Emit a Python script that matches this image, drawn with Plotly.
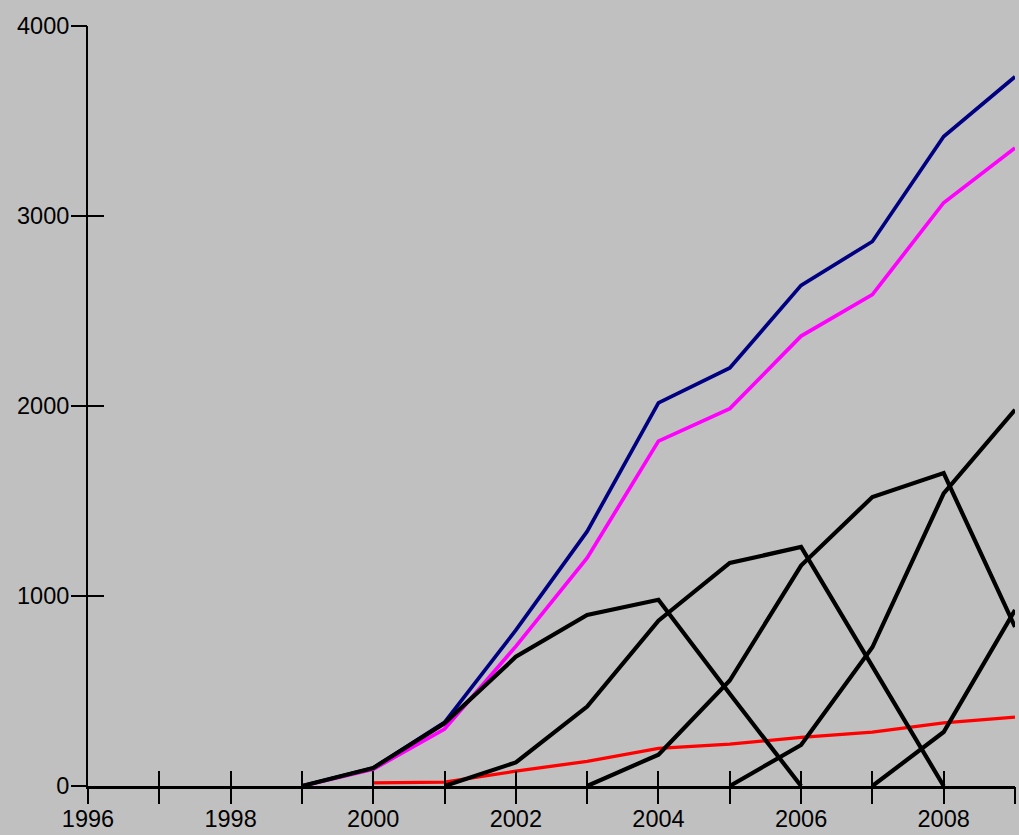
import plotly.graph_objects as go

# ---- data ----
tick_years = list(range(1996, 2010))
tick_labels = [str(y) if y % 2 == 0 else "" for y in tick_years]
y_ticks = [0, 1000, 2000, 3000, 4000]

total_years = list(range(1999, 2010))
total_values = [0, 95, 335, 820, 1340, 2016, 2200, 2635, 2866, 3418, 3733]

magenta_years = list(range(1999, 2010))
magenta_values = [0, 88, 300, 735, 1200, 1815, 1986, 2368, 2586, 3070, 3358]

red_years = list(range(2000, 2010))
red_values = [16, 20, 78, 130, 198, 220, 256, 284, 332, 363]

cohort_a_years = list(range(1999, 2007))
cohort_a_values = [0, 95, 330, 680, 900, 980, 485, 0]

cohort_b_years = list(range(2001, 2009))
cohort_b_values = [0, 124, 418, 870, 1174, 1258, 630, 0]

cohort_c_years = list(range(2003, 2010))
cohort_c_values = [0, 165, 555, 1160, 1521, 1647, 837]

cohort_d_years = list(range(2005, 2010))
cohort_d_values = [0, 216, 730, 1540, 1980]

cohort_e_years = list(range(2007, 2010))
cohort_e_values = [0, 284, 926]

fig = go.Figure()

fig.add_trace(go.Scatter(x=total_years, y=total_values, mode="lines",
                         line=dict(color="#000080", width=3.7)))
fig.add_trace(go.Scatter(x=magenta_years, y=magenta_values, mode="lines",
                         line=dict(color="#ff00ff", width=3.7)))
fig.add_trace(go.Scatter(x=red_years, y=red_values, mode="lines",
                         line=dict(color="#ff0000", width=3.3)))
for xs, ys in [(cohort_a_years, cohort_a_values), (cohort_b_years, cohort_b_values),
               (cohort_c_years, cohort_c_values), (cohort_d_years, cohort_d_values),
               (cohort_e_years, cohort_e_values)]:
    fig.add_trace(go.Scatter(x=xs, y=ys, mode="lines",
                             line=dict(color="#000000", width=4.2)))

# invisible trace to anchor the overlay axes (ticks crossing the axis lines)
fig.add_trace(go.Scatter(x=[tick_years[0]], y=[0], xaxis="x2", yaxis="y2",
                         mode="markers", marker=dict(opacity=0), hoverinfo="skip"))

font = dict(family="Liberation Sans, Arial, sans-serif", size=23.5, color="#000000")

fig.update_layout(
    width=1019, height=835,
    margin=dict(l=88, r=4, t=26, b=49, autoexpand=False),
    paper_bgcolor="#c0c0c0", plot_bgcolor="#c0c0c0",
    showlegend=False,
    font=font,
    xaxis=dict(range=[1996, 2009], tickmode="array", tickvals=tick_years,
               ticktext=tick_labels, ticks="inside", ticklen=15, tickwidth=2,
               tickcolor="#000000", showline=True, linecolor="#000000", linewidth=3,
               showgrid=False, zeroline=False, tickfont=font, automargin=False,
               ticklabelstandoff=10),
    yaxis=dict(range=[0, 4000], tickmode="array", tickvals=y_ticks,
               ticks="inside", ticklen=16, tickwidth=2, tickcolor="#000000",
               showline=True, linecolor="#000000", linewidth=2,
               showgrid=False, zeroline=False, tickfont=font, automargin=False,
               ticklabelstandoff=12),
    xaxis2=dict(range=[1996, 2009], overlaying="x", tickmode="array",
                tickvals=tick_years, ticks="outside", ticklen=17, tickwidth=2,
                tickcolor="#000000", showticklabels=False, showline=False,
                showgrid=False, zeroline=False, side="bottom", automargin=False),
    yaxis2=dict(range=[0, 4000], overlaying="y", tickmode="array",
                tickvals=y_ticks, ticks="outside", ticklen=16, tickwidth=2,
                tickcolor="#000000", showticklabels=False, showline=False,
                showgrid=False, zeroline=False, side="left", automargin=False),
)

fig.write_html("out.html", config={"displayModeBar": False},
               post_script="document.body.style.margin='0';document.body.style.overflow='hidden';")
